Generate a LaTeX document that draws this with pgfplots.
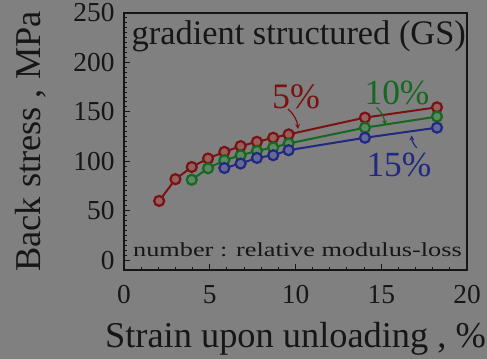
\documentclass[border=0pt]{standalone}
\usepackage{pgfplots}
\pgfplotsset{compat=1.18}
\usepackage{fontspec}
\setmainfont{Liberation Serif}
\definecolor{bg}{RGB}{128,128,128}
\definecolor{txt}{RGB}{22,22,22}
\definecolor{cR}{RGB}{122,18,18}
\definecolor{cG}{RGB}{22,104,32}
\definecolor{cB}{RGB}{32,40,128}
\definecolor{fR}{RGB}{150,95,95}
\definecolor{fG}{RGB}{95,135,100}
\definecolor{fB}{RGB}{100,105,150}
\begin{document}
\begin{tikzpicture}
\useasboundingbox (0,0) rectangle (487bp,359bp);
\fill[bg] (0,0) rectangle (487bp,359bp);
\begin{axis}[
  at={(124bp,89bp)}, anchor=south west,
  scale only axis, width=343bp, height=257bp,
  xmin=0, xmax=20, ymin=-10, ymax=250,
  xtick={0,5,10,15,20}, ytick={0,50,100,150,200,250},
  minor x tick num=4, minor y tick num=9,
  tick pos=left, tick align=inside,
  major tick length=6bp, minor tick length=3bp,
  axis line style={txt, line width=1.3bp},
  every tick/.style={txt, line width=1bp},
  /pgf/number format/assume math mode=true,
  ticklabel style={font=\fontsize{27.5}{30}\selectfont, text=txt},
  xticklabel style={yshift=-12bp},
  yticklabel style={xshift=-6bp},
  xlabel={Strain upon unloading , \%},
  ylabel={Back stress , MPa},
  label style={font=\fontsize{36.5}{38}\selectfont, text=txt},
  xlabel style={at={(0.5,0)}, anchor=north, yshift=-49bp},
  ylabel style={at={(0,0.5)}, anchor=south, yshift=74bp},
  clip=false,
]
\addplot[cR, line width=2bp, mark=*, mark size=5bp, mark options={fill=fR, draw=cR, line width=2.2bp}] coordinates {
 (2.05,59.9) (3.0,81.9) (3.95,94.2) (4.9,102.8) (5.85,109.5) (6.8,115.3) (7.75,119.7) (8.7,123.8) (9.6,127.2) (14.05,144.2) (18.25,154.6)};
\addplot[cG, line width=2bp, mark=*, mark size=5bp, mark options={fill=fG, draw=cG, line width=2.2bp}] coordinates {
 (3.95,81.3) (4.9,92.9) (5.85,101) (6.8,106) (7.75,110.5) (8.7,114) (9.6,118) (14.05,134) (18.25,145.2)};
\addplot[cB, line width=2bp, mark=*, mark size=5bp, mark options={fill=fB, draw=cB, line width=2.2bp}] coordinates {
 (5.85,93.2) (6.8,97.7) (7.75,103.4) (8.7,106.1) (9.6,111.2) (14.05,123.8) (18.25,134)};
\node[cR, font=\fontsize{36}{38}\selectfont] at (axis cs:10.03,165.3) {5\%};
\node[cG, font=\fontsize{35.5}{38}\selectfont] at (axis cs:15.92,169.4) {10\%};
\node[cB, font=\fontsize{35.5}{38}\selectfont] at (axis cs:16.03,96.7) {15\%};
\draw[cR, line width=1.2bp, -stealth] (axis cs:9.56,153) to[bend left=20] (axis cs:10.15,132.6);
\draw[cG, line width=1.2bp, -stealth] (axis cs:14.73,154.4) to[bend left=20] (axis cs:15.22,136.4);
\draw[cB, line width=1.2bp, -stealth] (axis cs:17.07,113.6) to[bend left=20] (axis cs:16.77,126.2);
\node[txt, anchor=base west, inner sep=0pt, font=\fontsize{34.5}{36}\selectfont] at (rel axis cs:0.022,0.878) {gradient structured (GS)};
\node[txt, anchor=base west, inner sep=0pt, font=\fontsize{20}{22}\selectfont] at (rel axis cs:0.026,0.051) {\scalebox{1.32}[1]{number : relative modulus-loss}};
\end{axis}
\end{tikzpicture}
\end{document}
